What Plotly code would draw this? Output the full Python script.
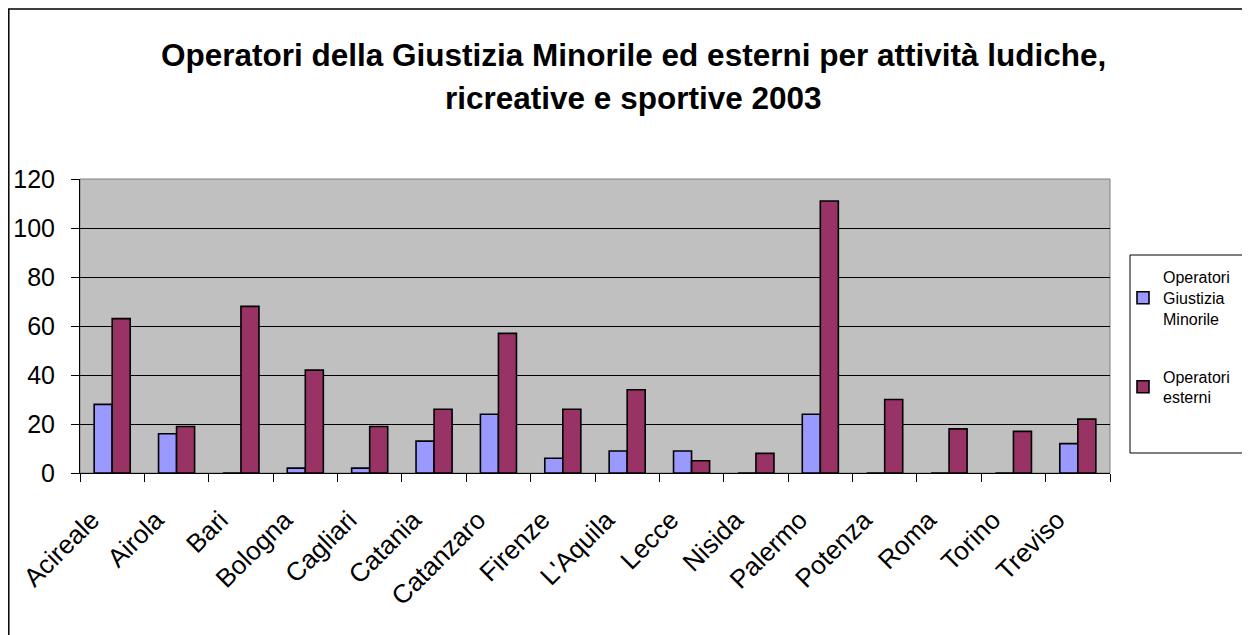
import plotly.graph_objects as go

categories = ["Acireale", "Airola", "Bari", "Bologna", "Cagliari", "Catania", "Catanzaro",
              "Firenze", "L'Aquila", "Lecce", "Nisida", "Palermo", "Potenza", "Roma",
              "Torino", "Treviso"]
giustizia = [28, 16, 0, 2, 2, 13, 24, 6, 9, 9, 0, 24, 0, 0, 0, 12]
esterni = [63, 19, 68, 42, 19, 26, 57, 26, 34, 5, 8, 111, 30, 18, 17, 22]
y_ticks = [0, 20, 40, 60, 80, 100, 120]

W, H = 1250, 635
OFF = 8  # page body margin
L, R, T, B = 80 - OFF, 1110 - OFF, 179 - OFF, 473 - OFF
pw, ph = R - L, B - T

def px(x):
    return (x - OFF - L) / pw

def py(y):
    return (B - (y - OFF)) / ph

FONT = "Arial, Liberation Sans, sans-serif"
PAD = "\u00a0\u00a0\u00a0\u00a0"

fig = go.Figure()
fig.add_trace(go.Bar(x=categories, y=giustizia, name="Operatori<br>Giustizia<br>Minorile",
                     legendgroup="g0",
                     marker=dict(color="#9999FF", line=dict(color="black", width=1.6))))
fig.add_trace(go.Bar(x=categories, y=esterni, name="Operatori<br>esterni",
                     legendgroup="g1",
                     marker=dict(color="#993366", line=dict(color="black", width=1.6))))

fig.update_layout(
    width=W, height=H,
    margin=dict(l=L, r=W - R, t=T, b=H - B, pad=0, autoexpand=False),
    paper_bgcolor="white", plot_bgcolor="#C0C0C0",
    barmode="group", bargap=0.44, bargroupgap=0,
    font=dict(family=FONT, color="black"),
    showlegend=True,
    legend=dict(x=px(1123), y=py(260), xanchor="left", yanchor="top",
                font=dict(size=16, family=FONT), bgcolor="rgba(0,0,0,0)",
                borderwidth=0, tracegroupgap=34, traceorder="grouped"),
    xaxis=dict(type="category", showline=True, linecolor="black", linewidth=1,
               ticks="outside", ticklen=8, tickcolor="black", tickson="boundaries",
               tickangle=-45, tickfont=dict(size=26, family=FONT), showgrid=False,
               zeroline=False, ticklabelstandoff=0, automargin=False,
               tickmode="array", tickvals=categories, ticktext=[c + PAD for c in categories]),
    yaxis=dict(range=[0, 120], tickvals=y_ticks, showline=True, linecolor="black", linewidth=1,
               ticks="outside", ticklen=8, tickcolor="black", showgrid=True,
               gridcolor="black", gridwidth=1, zeroline=False, automargin=False,
               tickfont=dict(size=25, family=FONT), ticklabelstandoff=11),
)

# plot area border (gray top/right)
fig.add_shape(type="rect", xref="paper", yref="paper", x0=0, x1=1, y0=0, y1=1,
              line=dict(color="#808080", width=1), layer="below")
# legend box
fig.add_shape(type="rect", xref="paper", yref="paper", x0=px(1130), x1=px(1275),
              y0=py(453), y1=py(255), line=dict(color="black", width=1))
# chart frame
fig.add_shape(type="rect", xref="paper", yref="paper", x0=px(OFF + 0.8), x1=px(1290),
              y0=py(680), y1=py(OFF + 1), line=dict(color="black", width=1.5))

fig.add_annotation(text="<b>Operatori della Giustizia Minorile ed esterni per attività ludiche,</b>",
                   x=px(633), y=py(55), xref="paper", yref="paper", showarrow=False,
                   xanchor="center", yanchor="middle", font=dict(size=31.5, family=FONT))
fig.add_annotation(text="<b>ricreative e sportive 2003</b>",
                   x=px(633), y=py(98), xref="paper", yref="paper", showarrow=False,
                   xanchor="center", yanchor="middle", font=dict(size=31.5, family=FONT))

fig.write_html("out.html")
